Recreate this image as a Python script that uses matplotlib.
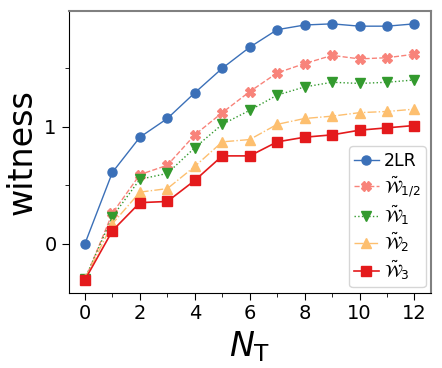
import numpy as np
import matplotlib.pyplot as plt
from matplotlib.ticker import MultipleLocator

NT = np.arange(13)
w_2lr = [0.00, 0.61, 0.91, 1.07, 1.29, 1.50, 1.68, 1.83, 1.87, 1.88, 1.86, 1.86, 1.88]
w_half = [-0.31, 0.26, 0.59, 0.67, 0.93, 1.12, 1.30, 1.46, 1.54, 1.61, 1.58, 1.59, 1.62]
w_1 = [-0.30, 0.23, 0.55, 0.60, 0.82, 1.02, 1.14, 1.27, 1.34, 1.38, 1.37, 1.38, 1.40]
w_2 = [-0.30, 0.17, 0.44, 0.47, 0.66, 0.87, 0.89, 1.02, 1.07, 1.09, 1.12, 1.13, 1.15]
w_3 = [-0.31, 0.11, 0.35, 0.36, 0.54, 0.75, 0.75, 0.87, 0.91, 0.93, 0.97, 0.99, 1.01]

labels = ['2LR', r'$\tilde{\mathcal{W}}_{1/2}$', r'$\tilde{\mathcal{W}}_{1}$',
          r'$\tilde{\mathcal{W}}_{2}$', r'$\tilde{\mathcal{W}}_{3}$']

fig, ax = plt.subplots(figsize=(4.42, 3.68), dpi=100)
ax.plot(NT, w_2lr, '-', marker='o', color='#3b70b8', ms=6.5, lw=1, label=labels[0])
ax.plot(NT, w_half, '--', marker='X', color='#f8837a', ms=7, lw=1, label=labels[1])
ax.plot(NT, w_1, ':', marker='v', color='#339a2e', ms=7, lw=1, label=labels[2])
ax.plot(NT, w_2, '-.', marker='^', color='#fdbf6f', ms=7, lw=1, label=labels[3])
ax.plot(NT, w_3, '-', marker='s', color='#e41a1c', ms=6.5, lw=1.2, label=labels[4])

ax.xaxis.set_major_locator(MultipleLocator(2))
ax.xaxis.set_minor_locator(MultipleLocator(1))
ax.yaxis.set_major_locator(MultipleLocator(1))
ax.yaxis.set_minor_locator(MultipleLocator(0.5))
ax.tick_params(which='major', labelsize=14, length=5)
ax.tick_params(which='minor', length=3)
for s in ['top', 'right']:
    ax.spines[s].set_color('#808080')
    ax.spines[s].set_linewidth(1.5)

ax.set_xlabel(r'$N_\mathrm{T}$', fontsize=24)
ax.set_ylabel('witness', fontsize=24)
ax.legend(loc='lower right', fontsize=12.5, handlelength=1.4, handletextpad=0.3,
          borderpad=0.3, labelspacing=0.25, borderaxespad=0.3)

fig.subplots_adjust(left=0.155, right=0.975, top=0.97, bottom=0.205)
fig.savefig('out.png')
